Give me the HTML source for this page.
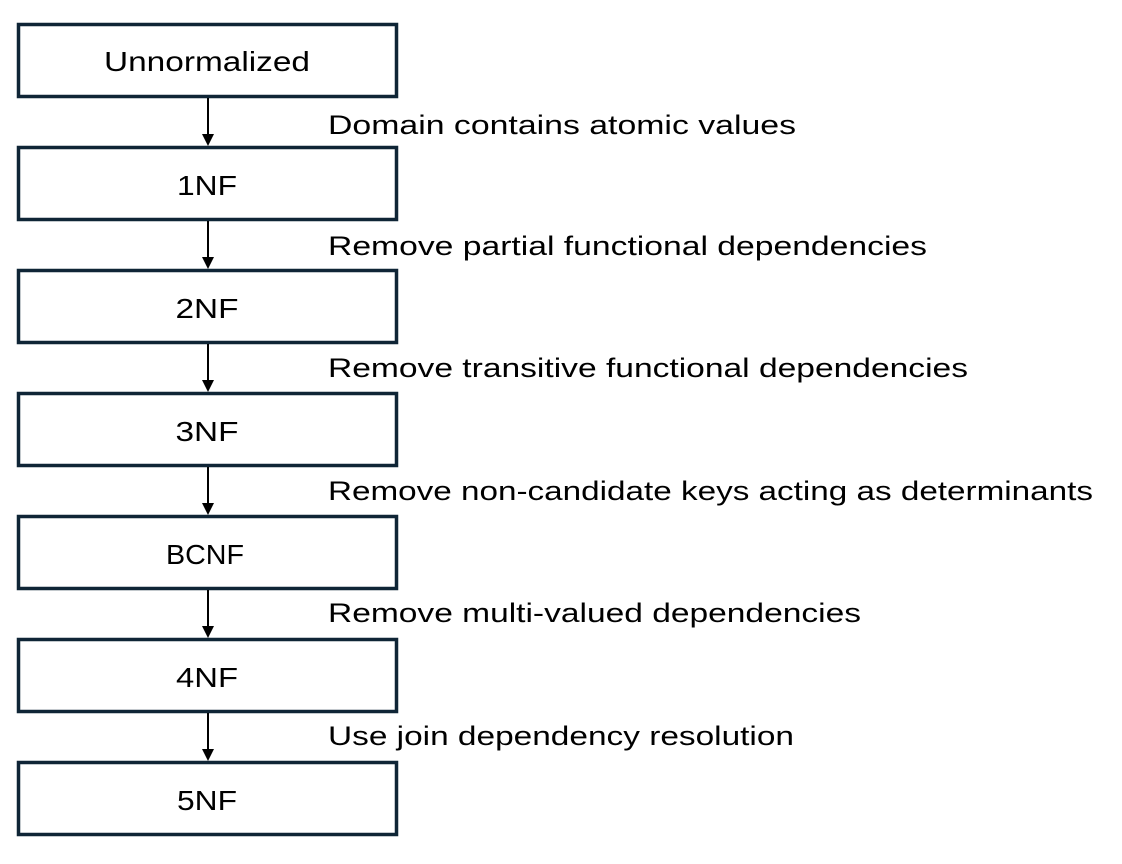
<!DOCTYPE html>
<html><head><meta charset="utf-8"><style>html,body{margin:0;padding:0;background:#fff}svg{display:block}</style></head>
<body>
<svg width="1122" height="864" viewBox="0 0 1122 864" xmlns="http://www.w3.org/2000/svg" font-family="Liberation Sans, sans-serif" font-size="27">
<g fill="none" stroke="#0f2536" stroke-width="3.5">
<rect x="18.5" y="24.5" width="378" height="72"/>
<rect x="18.5" y="147.5" width="378" height="72"/>
<rect x="18.5" y="270.5" width="378" height="72"/>
<rect x="18.5" y="393.5" width="378" height="72"/>
<rect x="18.5" y="516.5" width="378" height="72"/>
<rect x="18.5" y="639.5" width="378" height="72"/>
<rect x="18.5" y="762.5" width="378" height="72"/>
</g>
<g stroke="#000" stroke-width="2">
<line x1="208" y1="98" x2="208" y2="136"/>
<line x1="208" y1="221" x2="208" y2="259"/>
<line x1="208" y1="344" x2="208" y2="382"/>
<line x1="208" y1="467" x2="208" y2="505"/>
<line x1="208" y1="590" x2="208" y2="628"/>
<line x1="208" y1="713" x2="208" y2="751"/>
</g>
<g fill="#000">
<polygon points="202,134 214,134 208,146"/>
<polygon points="202,257 214,257 208,269"/>
<polygon points="202,380 214,380 208,392"/>
<polygon points="202,503 214,503 208,515"/>
<polygon points="202,626 214,626 208,638"/>
<polygon points="202,749 214,749 208,761"/>
</g>
<g fill="#000" text-anchor="middle" font-size="28">
<text x="207" y="71" textLength="206" lengthAdjust="spacingAndGlyphs">Unnormalized</text>
<text x="207" y="195" textLength="60" lengthAdjust="spacingAndGlyphs">1NF</text>
<text x="207" y="318" textLength="63" lengthAdjust="spacingAndGlyphs">2NF</text>
<text x="207" y="441" textLength="63" lengthAdjust="spacingAndGlyphs">3NF</text>
<text x="205" y="564" textLength="78" lengthAdjust="spacingAndGlyphs">BCNF</text>
<text x="207" y="687" textLength="62" lengthAdjust="spacingAndGlyphs">4NF</text>
<text x="207" y="810" textLength="60" lengthAdjust="spacingAndGlyphs">5NF</text>
</g>
<g fill="#000">
<text x="328" y="134" textLength="468" lengthAdjust="spacingAndGlyphs">Domain contains atomic values</text>
<text x="328" y="255" textLength="599" lengthAdjust="spacingAndGlyphs">Remove partial functional dependencies</text>
<text x="328" y="377" textLength="640" lengthAdjust="spacingAndGlyphs">Remove transitive functional dependencies</text>
<text x="328" y="500" textLength="765" lengthAdjust="spacingAndGlyphs">Remove non-candidate keys acting as determinants</text>
<text x="328" y="622" textLength="533" lengthAdjust="spacingAndGlyphs">Remove multi-valued dependencies</text>
<text x="328" y="745" textLength="466" lengthAdjust="spacingAndGlyphs">Use join dependency resolution</text>
</g>
</svg>
</body></html>
